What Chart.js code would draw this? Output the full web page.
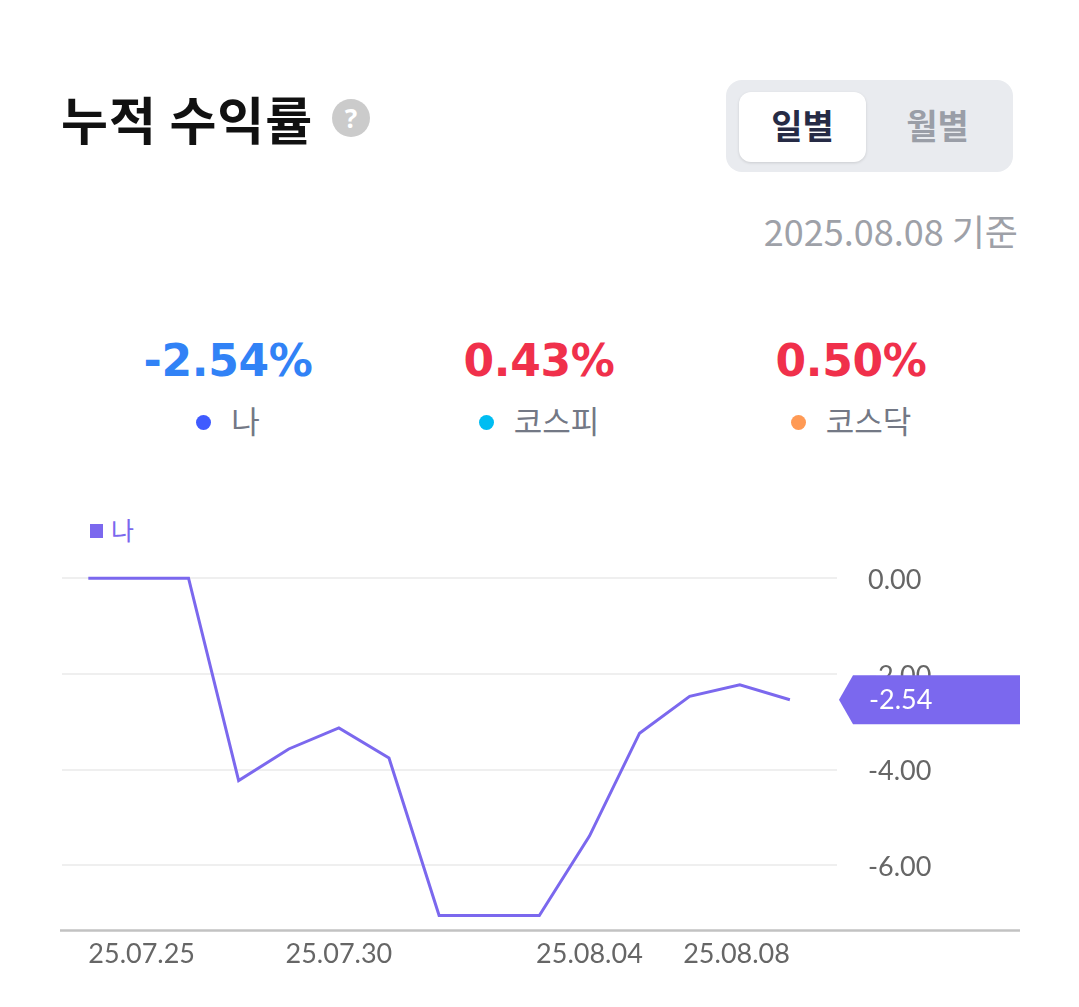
<!DOCTYPE html>
<html>
<head>
<meta charset="utf-8">
<script src="https://cdn.jsdelivr.net/npm/chart.js@4.4.1/dist/chart.umd.min.js"></script>
<style>
html,body{margin:0;padding:0;background:#fff;width:1079px;height:1007px;overflow:hidden;font-family:"Noto Sans CJK KR","Noto Sans",sans-serif;}
.abs{position:absolute;white-space:nowrap;}
#title{left:61px;top:86px;font-size:51px;line-height:64px;font-weight:700;color:#111;letter-spacing:1px;}
#help{left:332px;top:99px;width:38px;height:38px;border-radius:50%;background:#cbcbcb;color:#fff;font-family:"Noto Sans",sans-serif;font-weight:700;font-size:26px;line-height:38px;text-align:center;}
#toggle{left:726px;top:80px;width:287px;height:92px;border-radius:16px;background:#e9ebef;}
#tbtn{left:739px;top:92px;width:127px;height:70px;border-radius:12px;background:#fff;box-shadow:0 1px 3px rgba(0,0,0,0.13);}
.tlabel{top:104px;width:127px;text-align:center;font-size:34px;line-height:42px;font-weight:700;}
#asof{right:61px;top:207px;font-size:36px;line-height:46px;color:#9ea1a8;}
.val{top:331px;width:312px;text-align:center;font-family:"DejaVu Sans",sans-serif;font-weight:700;font-size:44px;line-height:60px;letter-spacing:-0.3px;}
.leg{top:400px;width:312px;text-align:center;font-size:31px;line-height:40px;color:#737885;}
.dot{display:inline-block;width:15px;height:15px;border-radius:50%;vertical-align:middle;margin-right:20px;position:relative;top:-2px;}
#clegend{left:90px;top:514px;font-size:25px;line-height:30px;color:#7B68EE;}
#clegend .sq{display:inline-block;width:13px;height:14px;background:#7B68EE;margin-right:8px;vertical-align:middle;position:relative;top:-2px;}
#wrap{left:0;top:480px;width:1079px;height:500px;}
</style>
</head>
<body>
<div class="abs" id="title">누적 수익률</div>
<div class="abs" id="help">?</div>
<div class="abs" id="toggle"></div>
<div class="abs" id="tbtn"></div>
<div class="abs tlabel" style="left:739px;color:#262b45;">일별</div>
<div class="abs tlabel" style="left:874px;color:#9a9ea7;">월별</div>
<div class="abs" id="asof">2025.08.08 기준</div>

<div class="abs val" style="left:72px;color:#3182f6;">-2.54%</div>
<div class="abs val" style="left:383px;color:#f0304b;">0.43%</div>
<div class="abs val" style="left:695px;color:#f0304b;">0.50%</div>
<div class="abs leg" style="left:72px;"><span class="dot" style="background:#3f5bff;"></span>나</div>
<div class="abs leg" style="left:383px;"><span class="dot" style="background:#00bdf2;"></span>코스피</div>
<div class="abs leg" style="left:695px;"><span class="dot" style="background:#ff9a55;"></span>코스닥</div>

<div class="abs" id="clegend"><span class="sq"></span>나</div>
<div class="abs" id="wrap"><canvas id="c" width="1079" height="500"></canvas></div>

<script>
// ---- data ----
const dates = ['25.07.25','25.07.26','25.07.27','25.07.28','25.07.29','25.07.30','25.07.31','25.08.01','25.08.02','25.08.03','25.08.04','25.08.05','25.08.06','25.08.07','25.08.08'];
const myReturns = [0, 0, 0, -4.23, -3.57, -3.13, -3.76, -7.05, -7.05, -7.05, -5.39, -3.24, -2.47, -2.23, -2.54];
const xTickIndex = [0, 5, 10, 14];
const yTickValues = [0, -2, -4, -6];
const seriesName = '나';

const lineColor = '#7B68EE';
const axisFont = {family: 'Lato', size: 27};

const axisLinePlugin = {
  id: 'axisLine',
  afterDatasetsDraw(chart) {
    const ctx = chart.ctx, x = chart.scales.x, y = chart.scales.y;
    ctx.save();
    ctx.strokeStyle = '#c2c2c2';
    ctx.lineWidth = 2.5;
    ctx.beginPath();
    ctx.moveTo(chart.chartArea.left - 2, x.top + 0.5);
    ctx.lineTo(y.right, x.top + 0.5);
    ctx.stroke();
    ctx.restore();
  }
};

const lastBadgePlugin = {
  id: 'lastBadge',
  afterDraw(chart) {
    const ctx = chart.ctx, ys = chart.scales.y;
    const data = chart.data.datasets[0].data;
    const last = data[data.length - 1].y;
    const py = ys.getPixelForValue(last);
    const left = chart.chartArea.right + 2;
    const right = ys.right;
    const h = 24.5;
    ctx.save();
    ctx.fillStyle = lineColor;
    ctx.beginPath();
    ctx.moveTo(left, py);
    ctx.lineTo(left + 14, py - h);
    ctx.lineTo(right, py - h);
    ctx.lineTo(right, py + h);
    ctx.lineTo(left + 14, py + h);
    ctx.closePath();
    ctx.fill();
    ctx.fillStyle = '#fff';
    ctx.font = '27px Lato';
    ctx.textBaseline = 'middle';
    ctx.textAlign = 'left';
    ctx.fillText(last.toFixed(2), left + 30, py + 1);
    ctx.restore();
  }
};

new Chart(document.getElementById('c'), {
  type: 'line',
  data: {
    datasets: [{
      label: seriesName,
      data: myReturns.map((v, i) => ({x: i, y: v})),
      borderColor: lineColor,
      backgroundColor: lineColor,
      borderWidth: 3,
      pointRadius: 0,
      tension: 0,
      fill: false
    }]
  },
  options: {
    responsive: false,
    animation: false,
    layout: {padding: {left: 62, right: 59, top: 68, bottom: 0}},
    plugins: {legend: {display: false}, tooltip: {enabled: false}},
    scales: {
      x: {
        type: 'linear',
        min: -0.525,
        max: 14.94,
        afterBuildTicks: axis => { axis.ticks = xTickIndex.map(v => ({value: v})); },
        afterFit: axis => { axis.height = 50; },
        grid: {display: false, drawTicks: false},
        border: {display: false},
        ticks: {
          align: 'inner',
          autoSkip: false,
          maxRotation: 0,
          padding: 8,
          color: '#666',
          font: axisFont,
          callback: v => dates[v]
        }
      },
      y: {
        position: 'right',
        min: -7.353,
        max: 0.63,
        afterBuildTicks: axis => { axis.ticks = yTickValues.map(v => ({value: v})); },
        afterFit: axis => { axis.width = 183; },
        grid: {color: '#efefef', lineWidth: 2, drawTicks: false},
        border: {display: false},
        ticks: {
          padding: 31,
          color: '#666',
          font: axisFont,
          labelOffset: 2,
          callback: v => Number(v).toFixed(2)
        }
      }
    }
  },
  plugins: [axisLinePlugin, lastBadgePlugin]
});
</script>
</body>
</html>
